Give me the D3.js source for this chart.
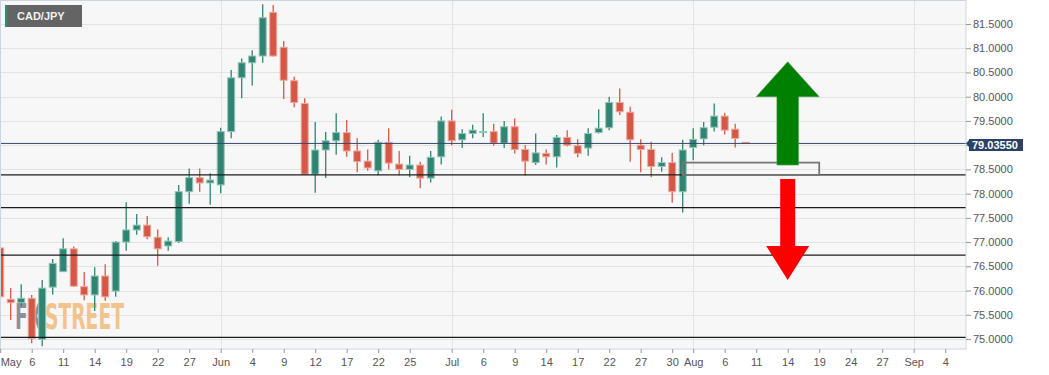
<!DOCTYPE html>
<html>
<head>
<meta charset="utf-8">
<title>CAD/JPY</title>
<style>
  body { margin: 0; background: #fff; }
  svg { display: block; font-family: "Liberation Sans", Arial, sans-serif; }
  .grid line { stroke: #e3e3e3; stroke-width: 1; }
  .axis text { fill: #555; font-size: 11px; }
  .axis line { stroke: #999; }
  .axis path { display: none; }
  .wm { font-family: "Liberation Sans Narrow", "DejaVu Sans Condensed", sans-serif; font-weight: bold; font-size: 36px; }
</style>
</head>
<body>
<svg id="chart" width="1049" height="375"></svg>
<script src="https://cdn.jsdelivr.net/npm/d3@7/dist/d3.min.js"></script>
<script>
// daily candles, trading days from 2020-05-01 to 2020-08-10
var opens = [76.88, 75.82, 75.75, 75.84, 74.99, 76.07, 76.39, 76.86, 76.08, 75.91, 76.30, 75.99,
  77.00, 77.25, 77.35, 77.10, 76.92, 77.01, 78.04, 78.33, 78.22, 78.18, 79.28, 80.39, 80.70,
  80.84, 81.74, 81.02, 80.33, 79.86, 78.40, 78.90, 79.09, 79.26, 78.88, 78.67, 78.47, 79.06,
  78.61, 78.50, 78.59, 78.32, 78.76, 79.50, 79.11, 79.24, 79.26, 79.28, 79.04, 79.38, 78.91,
  78.64, 78.83, 78.76, 79.16, 78.99, 78.94, 79.26, 79.36, 79.88, 79.68, 79.00, 78.91, 78.56,
  78.64, 78.04, 78.95, 79.13, 79.37, 79.60, 79.33, 79.06];
var highs = [76.98, 76.05, 76.13, 75.91, 76.22, 76.65, 77.08, 76.91, 76.38, 76.48, 76.54, 77.02,
  77.82, 77.58, 77.54, 77.26, 77.10, 78.18, 78.52, 78.52, 78.42, 79.36, 80.55, 80.79, 80.96,
  81.91, 81.89, 81.15, 80.41, 79.97, 79.48, 79.27, 79.66, 79.52, 79.14, 78.91, 79.11, 79.35,
  78.88, 78.78, 78.66, 78.88, 79.59, 79.73, 79.33, 79.42, 79.66, 79.44, 79.50, 79.55, 79.00,
  79.24, 78.91, 79.21, 79.31, 79.12, 79.35, 79.74, 80.00, 80.17, 79.79, 79.12, 79.07, 78.75,
  78.84, 79.11, 79.35, 79.48, 79.86, 79.67, 79.44, 79.06];
var lows = [75.66, 75.39, 75.67, 74.91, 74.85, 75.92, 76.38, 76.08, 75.80, 75.58, 75.79, 75.87,
  76.82, 77.15, 77.06, 76.51, 76.82, 76.98, 77.79, 78.04, 77.77, 78.01, 79.14, 79.97, 80.23,
  80.70, 80.83, 79.95, 79.78, 78.39, 78.02, 78.32, 78.80, 78.76, 78.44, 78.47, 78.38, 78.50,
  78.38, 78.34, 78.11, 78.23, 78.60, 79.00, 78.94, 79.14, 79.17, 78.99, 78.94, 78.83, 78.37,
  78.59, 78.60, 78.54, 78.97, 78.75, 78.78, 79.24, 79.31, 79.62, 78.66, 78.44, 78.34, 78.45,
  77.81, 77.61, 78.69, 79.00, 79.28, 79.22, 78.95, 79.03];
var closes = [75.87, 75.75, 75.84, 75.01, 76.05, 76.56, 76.86, 76.09, 75.91, 76.30, 75.87, 77.00,
  77.25, 77.35, 77.11, 76.86, 77.02, 78.04, 78.33, 78.22, 78.28, 79.28, 80.39, 80.70, 80.84,
  81.63, 80.84, 80.34, 79.88, 78.40, 78.90, 79.09, 79.26, 78.88, 78.66, 78.53, 79.06, 78.63,
  78.50, 78.59, 78.32, 78.75, 79.50, 79.09, 79.24, 79.31, 79.28, 79.04, 79.38, 78.91, 78.67,
  78.84, 78.76, 79.16, 79.00, 78.83, 79.24, 79.35, 79.88, 79.69, 79.11, 78.91, 78.56, 78.64,
  78.04, 78.90, 79.12, 79.36, 79.60, 79.31, 79.14, 79.0355];

var lastPrice = 79.0355;
var levels = [78.385, 77.71, 76.73, 75.035];

var priceTicks = [75, 75.5, 76, 76.5, 77, 77.5, 78, 78.5, 79, 79.5, 80, 80.5, 81, 81.5];
var tickDates = ["2020-05-01", "2020-05-06", "2020-05-11", "2020-05-14", "2020-05-19", "2020-05-22",
  "2020-05-27", "2020-06-01", "2020-06-04", "2020-06-09", "2020-06-12", "2020-06-17", "2020-06-22",
  "2020-06-25", "2020-07-01", "2020-07-06", "2020-07-09", "2020-07-14", "2020-07-17", "2020-07-22",
  "2020-07-27", "2020-07-30", "2020-08-03", "2020-08-06", "2020-08-11", "2020-08-14", "2020-08-19",
  "2020-08-24", "2020-08-27", "2020-09-01", "2020-09-04"];
var tickLabels = ["May", "6", "11", "14", "19", "22", "27", "Jun", "4", "9", "12", "17", "22", "25",
  "Jul", "6", "9", "14", "17", "22", "27", "30", "Aug", "6", "11", "14", "19", "24", "27", "Sep", "4"];

// annotations
var zone = { from: "2020-07-31", to: "2020-08-19", top: 78.64, bottom: 78.385 };
var upArrow = { date: "2020-08-14", tip: 80.72, head: 80.0, tail: 78.59 };
var downArrow = { date: "2020-08-14", tail: 78.30, head: 76.92, tip: 76.22 };

var plotW = 966, plotH = 349;
var fmt = d3.timeFormat("%Y-%m-%d");

// trading calendar (weekdays) shown on the x axis
var days = d3.timeDay.range(new Date(2020, 4, 1), new Date(2020, 8, 9))
  .filter(function (d) { return d.getDay() % 6 !== 0; })
  .map(fmt);

var candles = opens.map(function (o, i) {
  return { date: days[i], o: o, h: highs[i], l: lows[i], c: closes[i] };
});

var x = d3.scalePoint().domain(days).range([0.2, 966.2]);
var y = d3.scaleLinear().domain([75, 81.5]).range([339, 24]);

var svg = d3.select("#chart");

svg.append("defs").append("clipPath").attr("id", "plotclip")
  .append("rect").attr("width", plotW).attr("height", plotH);

svg.append("rect")
  .attr("width", plotW).attr("height", plotH)
  .attr("fill", "#f7f7f7");

var plot = svg.append("g").attr("clip-path", "url(#plotclip)");

// grid
var grid = plot.append("g").attr("class", "grid");
grid.selectAll(".h").data(priceTicks).enter().append("line")
  .attr("x1", 0).attr("x2", plotW)
  .attr("y1", function (d) { return Math.round(y(d)) + 0.5; })
  .attr("y2", function (d) { return Math.round(y(d)) + 0.5; });
var monthTicks = tickDates.filter(function (d, i) { return isNaN(+tickLabels[i]); }).slice(1);
grid.selectAll(".v").data(monthTicks).enter().append("line")
  .attr("y1", 0).attr("y2", plotH)
  .attr("x1", function (d) { return Math.round(x(d)) + 0.5; })
  .attr("x2", function (d) { return Math.round(x(d)) + 0.5; });

// watermark, squeezed horizontally to its width in the source
function watermark(txt, x0, w, color) {
  var t = plot.append("text").attr("class", "wm").attr("fill", color).text(txt);
  var len = t.node().getComputedTextLength();
  t.attr("transform", "translate(" + x0 + ",329) scale(" + (w / len) + ",1)");
}
watermark("FX", 15, 27, "#8d9098");
watermark("STREET", 45, 79, "#f2c38d");

// candles
var up = "#2f8571", upLight = "#96c3b8", dn = "#d55847", dnLight = "#eca99f";
var cg = plot.append("g").selectAll("g").data(candles).enter().append("g");
cg.append("line")
  .attr("x1", function (d) { return x(d.date); })
  .attr("x2", function (d) { return x(d.date); })
  .attr("y1", function (d) { return y(d.h); })
  .attr("y2", function (d) { return y(d.l); })
  .attr("stroke", function (d) { return d.c >= d.o ? up : dn; })
  .attr("stroke-width", 1.3);
cg.append("rect")
  .attr("x", function (d) { return x(d.date) - 3.5; })
  .attr("width", 7)
  .attr("y", function (d) { return y(Math.max(d.o, d.c)); })
  .attr("height", function (d) { return Math.max(1, Math.abs(y(d.o) - y(d.c))); })
  .attr("fill", function (d) { return d.c >= d.o ? up : dn; })
  .attr("stroke", function (d) { return d.c >= d.o ? upLight : dnLight; })
  .attr("stroke-width", 1);

// support / resistance levels
plot.selectAll(".lvl").data(levels).enter().append("line")
  .attr("x1", 0).attr("x2", plotW)
  .attr("y1", function (d) { return y(d); })
  .attr("y2", function (d) { return y(d); })
  .attr("stroke", "#1c1c1c").attr("stroke-width", 1.3);

// last price line
plot.append("line")
  .attr("x1", 0).attr("x2", plotW)
  .attr("y1", y(lastPrice)).attr("y2", y(lastPrice))
  .attr("stroke", "#34496b").attr("stroke-width", 1);

// zone box
plot.append("rect")
  .attr("x", x(zone.from)).attr("y", y(zone.top))
  .attr("width", x(zone.to) - x(zone.from))
  .attr("height", y(zone.bottom) - y(zone.top))
  .attr("fill", "none").attr("stroke", "#777").attr("stroke-width", 1.8);

// arrows
function arrowPath(cx, yTip, yHead, yTail, shaftHalf, headHalf) {
  var p = d3.path();
  p.moveTo(cx, yTip);
  p.lineTo(cx + headHalf, yHead);
  p.lineTo(cx + shaftHalf, yHead);
  p.lineTo(cx + shaftHalf, yTail);
  p.lineTo(cx - shaftHalf, yTail);
  p.lineTo(cx - shaftHalf, yHead);
  p.lineTo(cx - headHalf, yHead);
  p.closePath();
  return p.toString();
}
plot.append("path")
  .attr("d", arrowPath(x(upArrow.date), y(upArrow.tip), y(upArrow.head), y(upArrow.tail), 10.8, 31.5))
  .attr("fill", "#008000").attr("stroke", "#4a9e4a").attr("stroke-width", 0.6);
plot.append("path")
  .attr("d", arrowPath(x(downArrow.date), y(downArrow.tip), y(downArrow.head), y(downArrow.tail), 7.5, 21.5))
  .attr("fill", "#ff0000");

// plot border
svg.append("rect")
  .attr("x", 0.5).attr("y", 0.5)
  .attr("width", plotW - 0.5).attr("height", plotH - 0.5)
  .attr("fill", "none").attr("stroke", "#cdd4e2");

// right price axis (the tick under the last price label is covered, as in the source)
var ya = svg.append("g").attr("class", "axis")
  .attr("transform", "translate(" + plotW + ",0)")
  .call(d3.axisRight(y).tickValues(priceTicks).tickFormat(d3.format(".4f")).tickSize(5).tickPadding(2));
ya.selectAll("text").filter(function (d) { return Math.abs(y(d) - y(lastPrice)) < 9; }).remove();

// last price label
var ly = y(lastPrice) + 1.5;
svg.append("path")
  .attr("d", "M" + plotW + "," + (ly - 1.5) + "L969," + (ly - 5) + "L969," + (ly - 6) + "L1023," + (ly - 6) +
    "L1023," + (ly + 6) + "L969," + (ly + 6) + "L969," + (ly + 2) + "Z")
  .attr("fill", "#2b4266");
svg.append("text")
  .attr("x", 972).attr("y", ly).attr("dy", "0.35em")
  .attr("fill", "#fff").style("font-size", "11px").style("font-weight", "bold")
  .text(d3.format(".5f")(lastPrice));

// bottom date axis
var xa = svg.append("g").attr("class", "axis")
  .attr("transform", "translate(0," + plotH + ")")
  .call(d3.axisBottom(x).tickValues(tickDates)
    .tickFormat(function (d, i) { return tickLabels[i]; })
    .tickSize(4).tickPadding(5));
xa.selectAll("text").filter(function (d) { return x(d) < 12; }).attr("text-anchor", "start");

// symbol badge
svg.append("rect").attr("x", 5).attr("y", 5).attr("width", 77).attr("height", 22).attr("fill", "#646464");
svg.append("rect").attr("x", 5).attr("y", 5).attr("width", 2.5).attr("height", 22).attr("fill", "#2e8b6f");
svg.append("text").attr("x", 17).attr("y", 16).attr("dy", "0.35em")
  .attr("fill", "#f2f2f2").style("font-size", "11px").style("font-weight", "bold")
  .text("CAD/JPY");
</script>
</body>
</html>
